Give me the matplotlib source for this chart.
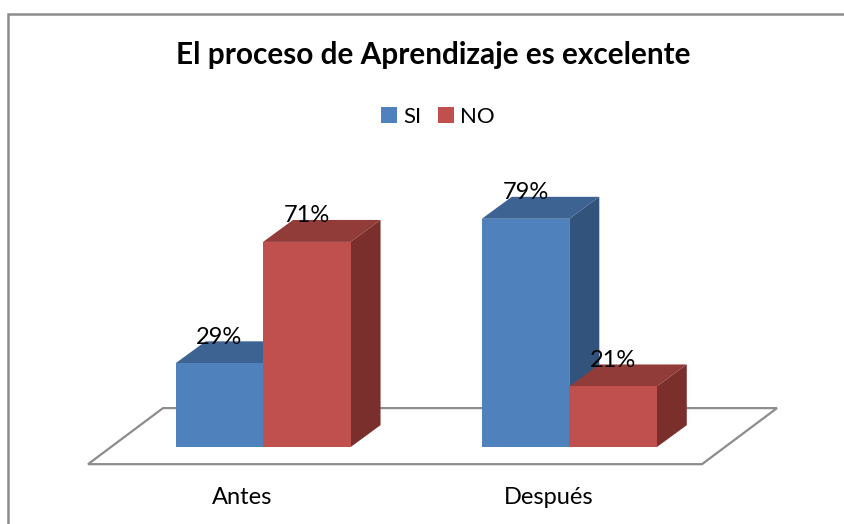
import matplotlib
matplotlib.use("Agg")
import matplotlib.pyplot as plt
from matplotlib.patches import Polygon, Rectangle

categories = ["Antes", "Después"]
series = ["SI", "NO"]
si_vals = [29, 79]
no_vals = [71, 21]
values = [si_vals, no_vals]

# front, top, side shades per series
front_cols = ["#4F81BD", "#C0504D"]
top_cols = ["#3D6392", "#923C3A"]
side_cols = ["#32537C", "#7B2F2D"]

plt.rcParams["font.family"] = ["Lato", "DejaVu Sans"]

fig = plt.figure(figsize=(8.45, 5.24), dpi=100)
ax = fig.add_axes([0, 0, 1, 1])
ax.set_xlim(-3.006, 6.651)
ax.set_ylim(-26.6, 154.7)
ax.axis("off")

# fake 3d depth in data units
dx, dy = 0.343, 7.6
group_x = [0, 3.5]
width = 1.0

# floor
fx0, fx1, fy0 = -2.0, 5.017, -5.9
fdx, fdy = 0.857, 19.4
floor = Polygon([(fx0, fy0), (fx1, fy0), (fx1 + fdx, fy0 + fdy), (fx0 + fdx, fy0 + fdy)],
                closed=True, facecolor="white", edgecolor="#8C8C8C", lw=1.6, zorder=1)
ax.add_patch(floor)

handles = []
z = 2
for g, gx in enumerate(group_x):
    for s in range(len(series)):
        h = values[s][g]
        x0 = gx - width + s * width
        b = ax.bar(x0, h, width=width, align="edge", color=front_cols[s], zorder=z + 2)
        if g == 0:
            handles.append(b)
        top = Polygon([(x0, h), (x0 + width, h), (x0 + width + dx, h + dy), (x0 + dx, h + dy)],
                      closed=True, facecolor=top_cols[s], edgecolor="none", zorder=z)
        side = Polygon([(x0 + width, 0), (x0 + width + dx, dy), (x0 + width + dx, h + dy), (x0 + width, h)],
                       closed=True, facecolor=side_cols[s], edgecolor="none", zorder=z + 1)
        ax.add_patch(top)
        ax.add_patch(side)
        ax.text(x0 + width / 2, h + 9.0, "%d%%" % h, ha="center", va="center",
                fontsize=17, color="black", zorder=20)
        z += 3

for gx, cat in zip(group_x, categories):
    ax.text(gx - 0.24, -17.3, cat, ha="center", va="center", fontsize=17, color="black")

fig.text(433 / 845, 1 - 55 / 524, "El proceso de Aprendizaje es excelente",
         ha="center", va="center", fontsize=21.4, fontweight="bold")

leg = fig.legend(handles, series, loc="center", bbox_to_anchor=(438 / 845, 1 - 117 / 524),
                 ncol=2, frameon=False, fontsize=16, handlelength=0.7, handleheight=0.7,
                 handletextpad=0.3, columnspacing=0.75)

fig.patches.append(Rectangle((8 / 845, -0.1), 1.2, 1.1 - 14 / 524, transform=fig.transFigure,
                             fill=False, edgecolor="#8C8C8C", lw=1.8))

fig.savefig("out.png", dpi=100)
